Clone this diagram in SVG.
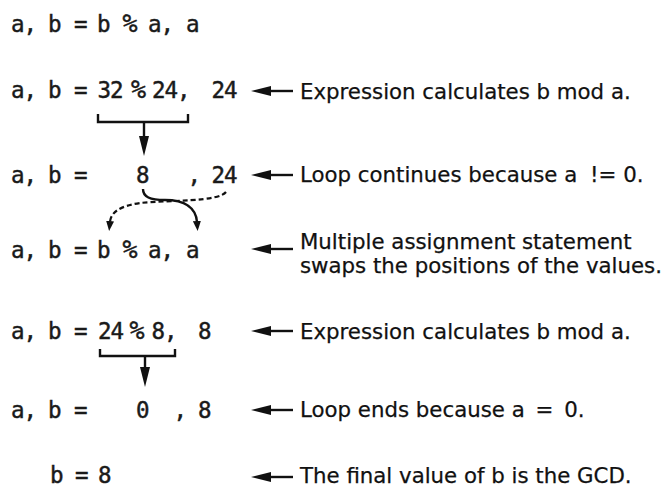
<svg xmlns="http://www.w3.org/2000/svg" width="664" height="490" viewBox="0 0 664 490">
<style>
.code{font-family:"DejaVu Sans Mono","Liberation Mono",monospace;font-size:22.5px;letter-spacing:-1px;fill:#1a1a1a;stroke:#1a1a1a;stroke-width:0.45}
.pct{font-size:25px}
.note{font-family:"DejaVu Sans","Liberation Sans",sans-serif;font-size:21.3px;fill:#111;stroke:#111;stroke-width:0.25}
.ln{fill:none;stroke:#111;stroke-width:2.4}
.dash{fill:none;stroke:#111;stroke-width:2.2;stroke-dasharray:5 3}
</style>
<defs>
<marker id="big" viewBox="0 -5 20 10" refX="1" refY="0" markerWidth="20" markerHeight="10" markerUnits="userSpaceOnUse" orient="auto">
<path d="M0,-5 L20,0 L0,5 z" fill="#111"/>
</marker>
<marker id="small" viewBox="0 -4 10 8" refX="1" refY="0" markerWidth="10" markerHeight="8" markerUnits="userSpaceOnUse" orient="auto">
<path d="M0,-4 L10,0 L0,4 z" fill="#111"/>
</marker>
</defs>
<rect width="664" height="490" fill="#fff"/>

<g id="row1"><text class="code" y="32"><tspan x="11">a,</tspan> <tspan x="48">b</tspan> <tspan x="74">=</tspan> <tspan x="97">b</tspan> <tspan class="pct" x="122.5">%</tspan> <tspan x="148">a,</tspan> <tspan x="186">a</tspan></text></g>

<g id="row2"><text class="code" y="98"><tspan x="11">a,</tspan> <tspan x="48">b</tspan> <tspan x="74">=</tspan> <tspan x="97.5">32</tspan> <tspan class="pct" x="131">%</tspan> <tspan x="152">24,</tspan> <tspan x="211.5">24</tspan></text>
<text class="note" x="300" y="99">Expression calculates b mod a.</text></g>

<g id="row3"><text class="code" y="183"><tspan x="11">a,</tspan> <tspan x="48">b</tspan> <tspan x="74">=</tspan> <tspan x="136">8</tspan> <tspan x="187.5">,</tspan> <tspan x="211.5">24</tspan></text>
<text class="note" x="300" y="182">Loop continues because a<tspan dx="6"> </tspan>!= 0.</text></g>

<g id="row4"><text class="code" y="258"><tspan x="11">a,</tspan> <tspan x="48">b</tspan> <tspan x="74">=</tspan> <tspan x="97">b</tspan> <tspan class="pct" x="122.5">%</tspan> <tspan x="148">a,</tspan> <tspan x="186">a</tspan></text>
<text class="note" y="249"><tspan x="300">Multiple assignment statement</tspan> <tspan x="300" dy="24">swaps the positions of the values.</tspan></text></g>

<g id="row5"><text class="code" y="339"><tspan x="11">a,</tspan> <tspan x="48">b</tspan> <tspan x="74">=</tspan> <tspan x="98">24</tspan> <tspan class="pct" x="129.5">%</tspan> <tspan x="151.5">8,</tspan> <tspan x="198">8</tspan></text>
<text class="note" x="300" y="339">Expression calculates b mod a.</text></g>

<g id="row6"><text class="code" y="418"><tspan x="11">a,</tspan> <tspan x="48">b</tspan> <tspan x="74">=</tspan> <tspan x="136">0</tspan> <tspan x="173.5">,</tspan> <tspan x="198">8</tspan></text>
<text class="note" x="300" y="417">Loop ends because a<tspan dx="4"> </tspan>=<tspan dx="4"> </tspan>0.</text></g>

<g id="row7"><text class="code" y="483"><tspan x="50">b</tspan> <tspan x="75">=</tspan> <tspan x="98">8</tspan></text>
<text class="note" x="300" y="483">The final value of b is the GCD.</text></g>

<g id="connectors">
<path class="ln" d="M293,91 H270" marker-end="url(#big)"/>
<path class="ln" d="M293,175 H270" marker-end="url(#big)"/>
<path class="ln" d="M293,249 H270" marker-end="url(#big)"/>
<path class="ln" d="M293,331 H270" marker-end="url(#big)"/>
<path class="ln" d="M293,410 H270" marker-end="url(#big)"/>
<path class="ln" d="M293,477 H270" marker-end="url(#big)"/>

<path class="ln" d="M98,114 V122 H188 V114"/>
<path class="ln" d="M144,122 V137" marker-end="url(#big)"/>
<path class="ln" d="M100,349 V356 H175 V349"/>
<path class="ln" d="M145,356 V368" marker-end="url(#big)"/>

<path class="ln" d="M143,189 C143,197 150,200 165,200 C185,200 196,208 197,222" marker-end="url(#small)"/>
<path class="dash" d="M226,192 C218,202 170,200 140,203 C120,206 111,212 110,222" marker-end="url(#small)"/>
</g>
</svg>
